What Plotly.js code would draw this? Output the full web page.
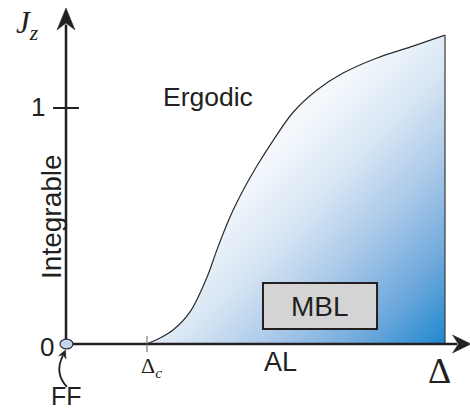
<!DOCTYPE html>
<html>
<head>
<meta charset="utf-8">
<script src="https://cdn.plot.ly/plotly-3.0.1.min.js"></script>
<style>
  html, body { margin: 0; padding: 0; background: #ffffff; }
  #chart { width: 470px; height: 410px; }
</style>
</head>
<body>
<div id="chart"></div>
<script>
// Boundary of the many-body-localized region in the (Δ, Jz) plane
const boundaryDelta = [1.000, 1.160, 1.321, 1.531, 1.741, 1.864, 2.025, 2.185, 2.358, 2.556, 2.802, 3.099, 3.420, 3.840, 4.247, 4.679];
const boundaryJz    = [0.000, 0.025, 0.059, 0.136, 0.283, 0.400, 0.538, 0.650, 0.755, 0.862, 0.981, 1.076, 1.148, 1.212, 1.258, 1.309];

// Critical disorder where the boundary leaves the Jz = 0 line
const deltaC = 1.0;

// Jz axis ticks
const jzTickValues = [0, 1];
const jzTickLabels = ['0', '1'];

// Phase names
const phaseErgodic = 'Ergodic';
const phaseIntegrable = 'Integrable';
const phaseMBL = 'MBL';
const phaseAL = 'AL';
const phaseFF = 'FF';

const ink = '#231f20';
const sans = 'Liberation Sans, Arial, Helvetica, sans-serif';
const serif = 'Liberation Serif, Times New Roman, serif';

const xEnd = boundaryDelta[boundaryDelta.length - 1];
const yEnd = Math.max(...boundaryJz);
const xTip = 5.0;     // end of the Δ arrow
const yTip = 1.424;   // end of the Jz arrow

// Diagonal blue shading used under the boundary
const gradSvg =
  '<svg xmlns="http://www.w3.org/2000/svg" width="300" height="300" viewBox="0 0 300 300" preserveAspectRatio="none">' +
  '<defs><linearGradient id="g" x1="0" y1="0" x2="1" y2="1">' +
  '<stop offset="0" stop-color="#ffffff"/>' +
  '<stop offset="0.40" stop-color="#f4f8fc"/>' +
  '<stop offset="0.55" stop-color="#d8e6f4"/>' +
  '<stop offset="0.70" stop-color="#aac9e9"/>' +
  '<stop offset="0.85" stop-color="#6fa9dc"/>' +
  '<stop offset="1" stop-color="#1f88cf"/>' +
  '</linearGradient></defs>' +
  '<rect width="300" height="300" fill="url(#g)"/></svg>';

const traces = [
  // upper edge of the white cover above the boundary
  {
    x: [deltaC - 0.06, xEnd + 0.04],
    y: [yEnd + 0.06, yEnd + 0.06],
    mode: 'lines',
    line: { width: 0, color: 'rgba(0,0,0,0)' },
    hoverinfo: 'skip',
    showlegend: false
  },
  // phase boundary; white fill hides the shading above it
  {
    x: boundaryDelta,
    y: boundaryJz,
    mode: 'lines',
    line: { shape: 'spline', smoothing: 0.9, color: '#2b2b2b', width: 1.2 },
    fill: 'tonexty',
    fillcolor: '#ffffff',
    hoverinfo: 'skip',
    showlegend: false
  }
];

// Filled barbed arrowheads (data units: 81 px per Δ unit, 236 px per Jz unit)
const yHead = 'M 0,' + yTip +
  ' L 0.111,' + (yTip - 0.093) +
  ' L 0,' + (yTip - 0.064) +
  ' L -0.111,' + (yTip - 0.093) + ' Z';
const xHead = 'M ' + xTip + ',0' +
  ' L ' + (xTip - 0.228) + ',0.038' +
  ' L ' + (xTip - 0.155) + ',0' +
  ' L ' + (xTip - 0.228) + ',-0.038 Z';
const ffHead = 'M -0.006,-0.0254 L 0.000,-0.0631 L -0.0333,-0.0466 L -0.0914,-0.0496 Z';

const shapes = [
  // right edge of the shaded region
  { type: 'line', xref: 'x', yref: 'y', x0: xEnd, x1: xEnd, y0: 0, y1: yEnd,
    line: { color: '#3a3a3a', width: 1.2 } },
  // axes
  { type: 'line', xref: 'x', yref: 'y', x0: 0, x1: xTip - 0.17, y0: 0, y1: 0,
    line: { color: ink, width: 2.5 } },
  { type: 'line', xref: 'x', yref: 'y', x0: 0, x1: 0, y0: 0, y1: yTip - 0.07,
    line: { color: ink, width: 2.5 } },
  { type: 'path', xref: 'x', yref: 'y', path: xHead, fillcolor: ink, line: { color: ink, width: 0.5 } },
  { type: 'path', xref: 'x', yref: 'y', path: yHead, fillcolor: ink, line: { color: ink, width: 0.5 } },
  // tick at Jz = 1
  { type: 'line', xref: 'x', yref: 'y', x0: -0.16, x1: 0.16, y0: jzTickValues[1], y1: jzTickValues[1],
    line: { color: ink, width: 2 } },
  // tick at Δc
  { type: 'line', xref: 'x', yref: 'y', x0: deltaC, x1: deltaC, y0: -0.034, y1: 0.034,
    line: { color: '#666666', width: 1 } },
  // MBL box
  { type: 'rect', xref: 'x', yref: 'y', x0: 2.432, x1: 3.840, y0: 0.064, y1: 0.258,
    fillcolor: '#d4d4d4', line: { color: ink, width: 2 } },
  // free-fermion point at the origin
  { type: 'circle', xref: 'x', yref: 'y', x0: -0.074, x1: 0.086, y0: -0.021, y1: 0.021,
    fillcolor: '#c3d4ee', line: { color: '#2a2a2a', width: 1.2 } },
  // curved pointer from the FF label
  { type: 'path', xref: 'x', yref: 'y',
    path: 'M 0.012,-0.182 Q -0.150,-0.122 -0.036,-0.048',
    line: { color: ink, width: 1.8 } },
  { type: 'path', xref: 'x', yref: 'y', path: ffHead, fillcolor: ink, line: { color: ink, width: 0.5 } }
];

const label = (text, x, y, size, family, extra) => Object.assign({
  text: text, x: x, y: y, xref: 'x', yref: 'y', showarrow: false,
  xanchor: 'center', yanchor: 'middle',
  font: { family: family, size: size, color: ink }
}, extra || {});

const annotations = [
  label('<i>J</i><sub><i>z</i></sub>', -0.475, 1.352, 31, serif),
  label(jzTickLabels[1], -0.346, jzTickValues[1] + 0.005, 26, sans),
  label(jzTickLabels[0], -0.235, jzTickValues[0] - 0.013, 26, sans),
  label(phaseIntegrable, -0.180, 0.540, 28, sans, { textangle: -90 }),
  label(phaseErgodic, 1.753, 1.045, 26.5, sans),
  label(phaseMBL, 3.136, 0.161, 28, sans),
  label(phaseAL, 2.642, -0.076, 27, sans),
  label(phaseFF, 0.0, -0.222, 25, sans),
  label('Δ', 4.617, -0.114, 36, serif),
  label('Δ<sub><i>c</i></sub>', 1.055, -0.097, 22, serif)
];

const layout = {
  width: 470,
  height: 410,
  margin: { l: 0, r: 0, t: 0, b: 0 },
  paper_bgcolor: '#ffffff',
  plot_bgcolor: 'rgba(0,0,0,0)',
  showlegend: false,
  xaxis: { range: [-0.8148, 4.9877], visible: false, fixedrange: true },
  yaxis: { range: [-0.2797, 1.4576], visible: false, fixedrange: true },
  images: [{
    source: 'data:image/svg+xml;base64,' + btoa(gradSvg),
    xref: 'x', yref: 'y',
    x: boundaryDelta[0], y: yEnd,
    sizex: xEnd - boundaryDelta[0], sizey: yEnd,
    xanchor: 'left', yanchor: 'top',
    sizing: 'stretch', layer: 'below'
  }],
  shapes: shapes,
  annotations: annotations
};

Plotly.newPlot('chart', traces, layout, { staticPlot: true, displayModeBar: false });
</script>
</body>
</html>
